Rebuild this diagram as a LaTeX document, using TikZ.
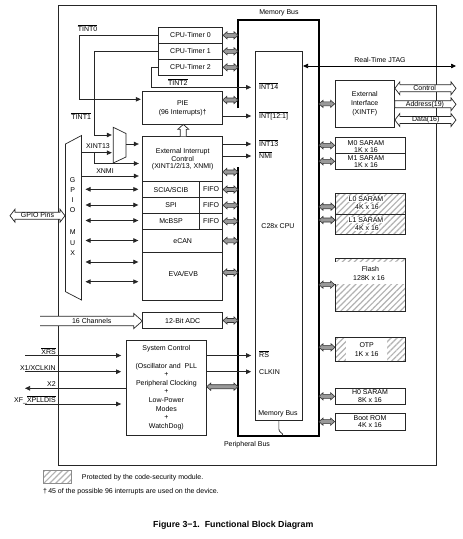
\documentclass[tikz,border=0pt]{standalone}
\usepackage{fontspec}
\setmainfont{Liberation Sans}
\usetikzlibrary{arrows.meta,calc,patterns.meta}
\newcommand\ovl[1]{$\overline{\hbox{#1}}$}
\tikzset{
  bx/.style={draw=black!85,line width=0.75pt,fill=white,inner sep=0pt,align=center},
  hatched/.style={draw=black!85,line width=0.75pt,pattern={Lines[angle=45,distance=4.2pt,line width=1.2pt]},pattern color=black!30},
  wtxt/.style={fill=white,inner sep=0.6pt},
  sig/.style={line width=0.7pt,draw=black!85,-{Triangle[length=5pt,width=4.5pt]},shorten >=3.5pt},
  bisig/.style={line width=0.7pt,draw=black!85,{Triangle[length=5pt,width=4.5pt]}-{Triangle[length=5pt,width=4.5pt]},shorten >=4pt,shorten <=4pt},
  thin/.style={line width=0.7pt,draw=black!85},
  membus/.style={line width=1.8pt,draw=black},
  fat/.style={draw=black!80,line width=0.6pt,fill=black!40,to path={let \p1=(\tikztostart),\p2=(\tikztotarget) in
     (\x1,\y1) -- ({\x1+4pt},{\y1+3.6pt}) -- ({\x1+4pt},{\y1+2pt}) -- ({\x2-4pt},{\y1+2pt}) -- ({\x2-4pt},{\y1+3.6pt}) -- (\x2,\y1)
     -- ({\x2-4pt},{\y1-3.6pt}) -- ({\x2-4pt},{\y1-2pt}) -- ({\x1+4pt},{\y1-2pt}) -- ({\x1+4pt},{\y1-3.6pt}) -- cycle}},
  holD/.style={draw=black!85,line width=0.7pt,fill=white,to path={let \p1=(\tikztostart),\p2=(\tikztotarget) in
     (\x1,\y1) -- ({\x1+5pt},{\y1+6.5pt}) -- ({\x1+5pt},{\y1+3.5pt}) -- ({\x2-5pt},{\y1+3.5pt}) -- ({\x2-5pt},{\y1+6.5pt}) -- (\x2,\y1)
     -- ({\x2-5pt},{\y1-6.5pt}) -- ({\x2-5pt},{\y1-3.5pt}) -- ({\x1+5pt},{\y1-3.5pt}) -- ({\x1+5pt},{\y1-6.5pt}) -- cycle}},
  holR/.style={draw=black!85,line width=0.7pt,fill=white,to path={let \p1=(\tikztostart),\p2=(\tikztotarget) in
     (\x1,{\y1+3.5pt}) -- ({\x2-5pt},{\y1+3.5pt}) -- ({\x2-5pt},{\y1+6.5pt}) -- (\x2,\y1)
     -- ({\x2-5pt},{\y1-6.5pt}) -- ({\x2-5pt},{\y1-3.5pt}) -- (\x1,{\y1-3.5pt}) -- cycle}},
  chan/.style={draw=black!85,line width=0.7pt,fill=white,to path={let \p1=(\tikztostart),\p2=(\tikztotarget) in
     (\x1,{\y1+4.8pt}) -- ({\x2-8.5pt},{\y1+4.8pt}) -- ({\x2-8.5pt},{\y1+7.5pt}) -- (\x2,\y1)
     -- ({\x2-8.5pt},{\y1-7.5pt}) -- ({\x2-8.5pt},{\y1-4.8pt}) -- (\x1,{\y1-4.8pt})}},
  holU/.style={draw=black!85,line width=0.7pt,fill=white,to path={let \p1=(\tikztostart),\p2=(\tikztotarget) in
     ({\x1-3pt},\y1) -- ({\x1-3pt},{\y2-5pt}) -- ({\x1-5.5pt},{\y2-5pt}) -- (\x1,\y2) -- ({\x1+5.5pt},{\y2-5pt}) -- ({\x1+3pt},{\y2-5pt}) -- ({\x1+3pt},\y1)}},
}
\begin{document}
\begin{tikzpicture}[x=1pt,y=-1pt,every node/.append style={font=\fontsize{7}{8}\selectfont,inner sep=0pt}]
\useasboundingbox (0,0) rectangle (463,539);
\fill[white] (0,0) rectangle (463,539);
\node[draw=black!85,line width=0.8pt,minimum width=378,minimum height=460] (frame) at (247,235) {};

% reference coordinates
\coordinate (busL) at (238,0);
\coordinate (busR) at (319,0);
\coordinate (muxL) at (113.3,0);
\coordinate (gmuxL) at (65,0);

% labels of buses
\node (mbl) at (279,13) {Memory Bus};
\node (pbl) at (247,444.5) {Peripheral Bus};

% timers and PIE
\node[bx,minimum width=64.4,minimum height=16] (t0) at (190.5,35.3) {CPU-Timer 0};
\node[bx,minimum width=64.4,minimum height=16] (t1) at (190.5,51.3) {CPU-Timer 1};
\node[bx,minimum width=64.4,minimum height=16] (t2) at (190.5,67.3) {CPU-Timer 2};
\node[bx,minimum width=80,minimum height=32.3,font=\fontsize{7}{9}\selectfont] (pie) at (182.7,107.85) {PIE\\(96 Interrupts)\textdagger};

% external interrupt + peripherals
\node[bx,minimum width=80,minimum height=45,font=\fontsize{7}{7.9}\selectfont] (extint) at (182.7,159.2) {External Interrupt\\Control\\(XINT1/2/13, XNMI)};
\node[bx,minimum width=56.6,minimum height=15.6] (sci) at (171,189.5) {SCIA/SCIB};
\node[bx,minimum width=23.4,minimum height=15.6] (fifo1) at (211,189.5) {FIFO};
\node[bx,minimum width=56.6,minimum height=16] (spi) at (171,205.3) {SPI};
\node[bx,minimum width=23.4,minimum height=16] (fifo2) at (211,205.3) {FIFO};
\node[bx,minimum width=56.6,minimum height=16] (mcbsp) at (171,221.3) {McBSP};
\node[bx,minimum width=23.4,minimum height=16] (fifo3) at (211,221.3) {FIFO};
\node[bx,minimum width=80,minimum height=23] (ecan) at (182.7,240.8) {eCAN};
\node[bx,minimum width=80,minimum height=47.7] (eva) at (182.7,276.15) {};
\node (evat) at (183.3,274.3) {EVA/EVB};
\node[bx,minimum width=80,minimum height=15.6] (adc) at (182.7,320.5) {12-Bit ADC};

% system control
\node[bx,minimum width=80.7,minimum height=95.5,font=\fontsize{7}{8.6}\selectfont] (sysctl) at (166.35,387.75)
  {System Control\\[8.6pt](Oscillator and\ \ PLL\\+\\Peripheral Clocking\\+\\Low-Power\\Modes\\+\\WatchDog)};

% CPU
\node[bx,minimum width=47.7,minimum height=368.3] (cpu) at (278.85,235.85) {};
\node (cput) at (278,225.7) {C28x CPU};
\node (cpumb) at (278,414) {Memory Bus};

% memories
\node[bx,minimum width=59.5,minimum height=47.7,font=\fontsize{7}{9.2}\selectfont] (xintf) at (364.75,103.85) {External\\Interface\\(XINTF)};
\node[bx,minimum width=70,minimum height=16] (m0) at (370,145.3) {};
\node[bx,minimum width=70,minimum height=16] (m1) at (370,161.3) {};
\node[font=\fontsize{7}{6.6}\selectfont,align=center] (m0t) at (366,146.6) {M0 SARAM\\1K x 16};
\node[font=\fontsize{7}{6.6}\selectfont,align=center] (m1t) at (366,161.7) {M1 SARAM\\1K x 16};
\node[hatched,minimum width=70,minimum height=20.4] (l0) at (370,203.7) {};
\node[hatched,minimum width=70,minimum height=20.4] (l1) at (370,224.1) {};
\node[wtxt] (l0a) at (366,199.3) {L0 SARAM};
\node[wtxt] (l0b) at (367,207.3) {4K x 16};
\node[wtxt] (l1a) at (366,220.3) {L1 SARAM};
\node[wtxt] (l1b) at (367,228.3) {4K x 16};
\node[hatched,minimum width=70,minimum height=52.7] (flash) at (370,284.65) {};
\fill[white] (335.4,262) rectangle (404.6,283.5);
\node (fla) at (370.5,269.3) {Flash};
\node (flb) at (369,278.3) {128K x 16};
\node[hatched,minimum width=70,minimum height=24] (otp) at (370,349.7) {};
\fill[white] (346,338.1) rectangle (387,361.3);
\node (otpa) at (366.7,345) {OTP};
\node (otpb) at (366.7,354) {1K x 16};
\node[bx,minimum width=70,minimum height=16,font=\fontsize{7}{7.7}\selectfont] (h0) at (370,396.3) {H0 SARAM\\8K x 16};
\node[bx,minimum width=70,minimum height=16.7,font=\fontsize{7}{7.4}\selectfont] (boot) at (370,421.65) {Boot ROM\\4K x 16};

% GPIO mux and interrupt mux
\draw[thin,fill=white] (65.5,144) -- (81.5,135.5) -- (81.5,300) -- (65.5,291.7) -- cycle;
\node (gG) at (72.7,180) {G};
\node (gP) at (72.7,190) {P};
\node (gI) at (72.7,200) {I};
\node (gO) at (72.7,210) {O};
\node (gM) at (72.7,232.5) {M};
\node (gU) at (72.7,243) {U};
\node (gX) at (72.7,253.3) {X};
\draw[thin] (113.3,127.3) -- (126,133.5) -- (126,157) -- (113.3,163) -- cycle;

% memory bus outline
\draw[membus] (238,108) -- (238,20) -- (319,20) -- (319,436) -- (238,436) -- (238,167);
\coordinate (cc) at (283,436);
\draw[thin] (cpu.south) -- (278.85,429) .. controls (278.85,433) and (283,432) .. (cc);

% timer signals
\coordinate (c0a) at (79.3,99.3);
\draw[sig,shorten >=1.5pt] (t0.west) -| (c0a) -- (c0a -| pie.west);
\node[anchor=base] (ltint0) at (87.5,31.7) {\ovl{TINT0}};
\coordinate (c1a) at (94.8,135);
\draw[sig,shorten >=1.5pt] (t1.west) -| (c1a) -- (c1a -| muxL);
\node[anchor=base] (ltint1) at (81.2,119.3) {\ovl{TINT1}};
\coordinate (c2a) at (151,87.3);
\draw[sig] (t2.west) -| (c2a) -- (c2a -| cpu.west);
\node[anchor=base] (ltint2) at (177.8,85.8) {\ovl{TINT2}};

% interrupts to CPU
\coordinate (i12) at (222.7,116);
\draw[sig] (i12) -- (i12 -| cpu.west);
\coordinate (i13) at (222.7,144);
\draw[sig] (i13) -- (i13 -| cpu.west);
\coordinate (inmi) at (222.7,156);
\draw[sig] (inmi) -- (inmi -| cpu.west);
\node[anchor=base west] (lint14) at (259,89.6) {\ovl{INT14}};
\node[anchor=base west] (lint12) at (259,118.3) {\ovl{INT[12:1]}};
\node[anchor=base west] (lint13) at (259,146.5) {\ovl{INT13}};
\node[anchor=base west] (lnmi) at (259,158.5) {\ovl{NMI}};

% mux output, XINT13, XNMI
\coordinate (mo) at (126,144);
\draw[sig] (mo) -- (mo -| extint.west);
\coordinate (x13) at (81.5,152.7);
\draw[sig,shorten >=1.5pt] (x13) -- (x13 -| muxL);
\node[anchor=base] (lx13) at (98,148.3) {XINT13};
\coordinate (xb) at (94.8,152.7);
\coordinate (xb2) at (94.8,163.5);
\draw[sig] (xb) -- (xb2) -- (xb2 -| extint.west);
\coordinate (xn) at (81.5,176);
\draw[sig] (xn) -- (xn -| extint.west);
\node[anchor=base] (lxnmi) at (105,173.3) {XNMI};

% GPIO bidirectional lines
\coordinate (g1) at (81.5,189.3);
\coordinate (g2) at (81.5,205);
\coordinate (g3) at (81.5,220.5);
\coordinate (g4) at (81.5,240.5);
\coordinate (g5) at (81.5,262);
\coordinate (g6) at (81.5,281.7);
\draw[bisig] (g1) -- (g1 -| sci.west);
\draw[bisig] (g2) -- (g2 -| spi.west);
\draw[bisig] (g3) -- (g3 -| mcbsp.west);
\draw[bisig] (g4) -- (g4 -| ecan.west);
\draw[bisig] (g5) -- (g5 -| eva.west);
\draw[bisig] (g6) -- (g6 -| eva.west);

% GPIO pins and ADC channels
\coordinate (gpL) at (10,215.7);
\draw[holD] (gpL) to (gpL -| gmuxL);
\node (lgp) at (37.5,215.2) {GPIO Pins};
\coordinate (chL) at (40,321);
\draw[chan] (chL) to (chL -| adc.west);
\node (lch) at (91.7,321) {16 Channels};

% PIE hollow arrow
\coordinate (pu) at (183.3,0);
\draw[holU] (pu |- extint.north) to (pu |- pie.south);

% system control signals
\coordinate (xrs) at (25,355.5);
\coordinate (xcl) at (25,371.7);
\coordinate (xx2) at (25,388.3);
\coordinate (xfp) at (25,404);
\draw[sig,shorten >=4.5pt] (xrs) -- (xrs -| sysctl.west);
\draw[sig,shorten >=4.5pt] (xcl) -- (xcl -| sysctl.west);
\draw[sig,shorten >=0pt] (xx2 -| sysctl.west) -- (xx2);
\draw[sig,shorten >=4.5pt] (xfp) -- (xfp -| sysctl.west);
\node[anchor=base east] (lxrs) at (56,354) {\ovl{XRS}};
\node[anchor=base east] (lxcl) at (56,370.5) {X1/XCLKIN};
\node[anchor=base east] (lx2) at (56,386.7) {X2};
\node[anchor=base east] (lxf) at (56,402.7) {XF\_\ovl{XPLLDIS}};
\coordinate (rs) at (206.7,355.5);
\coordinate (clk) at (206.7,371.7);
\draw[sig] (rs) -- (rs -| cpu.west);
\draw[sig] (clk) -- (clk -| cpu.west);
\node[anchor=base west] (lrs) at (259,357.7) {\ovl{RS}};
\node[anchor=base west] (lclk) at (259,374.3) {CLKIN};

% JTAG
\coordinate (jt) at (456,66);
\draw[line width=0.7pt,{Triangle[length=5pt,width=4.5pt]}-{Triangle[length=5pt,width=4.5pt]}] (cpu.east |- jt) -- (jt);
\node (ljt) at (380,60.2) {Real-Time JTAG};

% XINTF external arrows
\coordinate (ctlR) at (456,88.3);
\draw[holD] (xintf.east |- ctlR) to (ctlR);
\node (lctl) at (424.7,88.3) {Control};
\coordinate (adrR) at (456,104.3);
\draw[holR] (xintf.east |- adrR) to (adrR);
\node (ladr) at (425,104.3) {Address(19)};
\coordinate (datR) at (456,120);
\draw[holD] (xintf.east |- datR) to (datR);
\node (ldat) at (425.8,120) {Data(16)};

% gray bus arrows, left
\draw[fat] (t0.east) to (t0.east -| busL);
\draw[fat] (t1.east) to (t1.east -| busL);
\draw[fat] (t2.east) to (t2.east -| busL);
\coordinate (pb) at (222.7,100);
\draw[fat] (pb) to (pb -| busL);
\coordinate (eb) at (222.7,172);
\draw[fat] (eb) to (eb -| busL);
\draw[fat] (fifo1.east) to (fifo1.east -| busL);
\draw[fat] (fifo2.east) to (fifo2.east -| busL);
\draw[fat] (fifo3.east) to (fifo3.east -| busL);
\draw[fat] (ecan.east) to (ecan.east -| busL);
\coordinate (evb) at (222.7,272.5);
\draw[fat] (evb) to (evb -| busL);
\draw[fat] (adc.east) to (adc.east -| busL);
\coordinate (sb) at (206.7,386.7);
\draw[fat] (sb) to (sb -| busL);

% gray bus arrows, right
\draw[fat] (busR |- xintf.west) to (xintf.west);
\draw[fat] (busR |- m0.west) to (m0.west);
\draw[fat] (busR |- m1.west) to (m1.west);
\coordinate (l0p) at (335,206.7);
\coordinate (l1p) at (335,220);
\draw[fat] (busR |- l0p) to (l0p);
\draw[fat] (busR |- l1p) to (l1p);
\draw[fat] (busR |- flash.west) to (flash.west);
\coordinate (otpp) at (335,347.3);
\draw[fat] (busR |- otpp) to (otpp);
\draw[fat] (busR |- h0.west) to (h0.west);
\draw[fat] (busR |- boot.west) to (boot.west);

% legend and caption
\node[hatched,draw=black!45,minimum width=28.4,minimum height=12.6] (leg) at (57.5,477) {};
\node[anchor=west] (legt) at (81.7,477.5) {Protected by the code-security module.};
\node[anchor=west] (foot) at (43,492) {\textdagger\,45 of the possible 96 interrupts are used on the device.};
\node[font=\bfseries\fontsize{8.8}{10}\selectfont] (cap) at (233.3,525) {Figure 3−1.\ \ Functional Block Diagram};
\end{tikzpicture}
\end{document}
